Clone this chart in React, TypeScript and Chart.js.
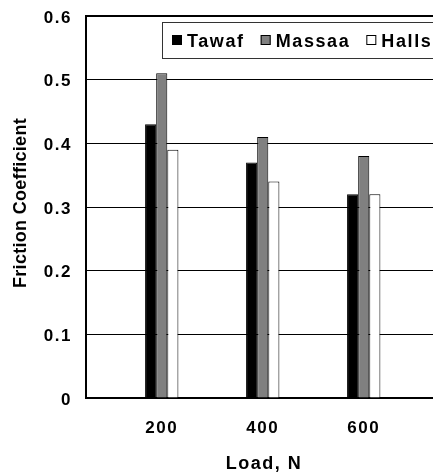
import React, { useEffect, useRef } from 'react';
import { Chart, registerables } from 'chart.js';

Chart.register(...registerables);

const loads = [200, 400, 600];
const xTickLabels = ['200', '400', '600'];
const seriesNames = ['Tawaf', 'Massaa', 'Halls'];
const tawaf = [0.43, 0.37, 0.32];
const massaa = [0.51, 0.41, 0.38];
const halls = [0.39, 0.34, 0.32];
const yTickValues = [0, 0.1, 0.2, 0.3, 0.4, 0.5, 0.6];
const yTickLabels = ['0', '0.1', '0.2', '0.3', '0.4', '0.5', '0.6'];

const FONT = '"Liberation Sans", Arial, Helvetica, sans-serif';

const spacingPlugin = {
  id: 'spacing',
  beforeInit(chart: any) { chart.ctx.letterSpacing = '1.5px'; },
  beforeUpdate(chart: any) { chart.ctx.letterSpacing = '1.5px'; },
  beforeDraw(chart: any) { chart.ctx.letterSpacing = '1.5px'; },
  afterLayout(chart: any) {
    const s = chart.scales.y;
    if (s && !s.__patched) {
      const orig = s.drawTitle.bind(s);
      s.drawTitle = function () {
        const c = s.ctx;
        const prev = c.letterSpacing;
        c.save();
        c.translate(0, -4);
        c.letterSpacing = '0.3px';
        orig();
        c.restore();
        c.letterSpacing = prev;
      };
      s.__patched = true;
    }
  },
};

const boxLegendPlugin = {
  id: 'boxLegend',
  afterDraw(chart: any) {
    const { ctx, chartArea } = chart;
    const left = Math.round(chartArea.left + 76) + 0.5;
    const top = Math.round(chartArea.top + 6) + 0.5;
    const h = 36;
    const w = chart.width - left + 20;
    ctx.save();
    ctx.letterSpacing = '1.6px';
    ctx.fillStyle = '#ffffff';
    ctx.fillRect(left, top, w, h);
    ctx.strokeStyle = '#333333';
    ctx.lineWidth = 1;
    ctx.strokeRect(left, top, w, h);
    ctx.font = `bold 18px ${FONT}`;
    ctx.textBaseline = 'alphabetic';
    ctx.textAlign = 'left';
    let x = Math.round(left + 9.5);
    const my = Math.round(top + 12.5);
    chart.data.datasets.forEach((ds: any) => {
      ctx.fillStyle = ds.backgroundColor;
      ctx.fillRect(x, my, 10, 10);
      ctx.strokeStyle = '#000000';
      ctx.strokeRect(x + 0.5, my + 0.5, 9, 9);
      ctx.fillStyle = '#000000';
      ctx.fillText(ds.label, x + 15, my + 11.5);
      x += 15 + ctx.measureText(ds.label).width + 16;
    });
    ctx.restore();
  },
};

export default function App() {
  const ref = useRef<HTMLCanvasElement>(null);
  useEffect(() => {
    if (!ref.current) return;
    const chart = new Chart(ref.current, {
      type: 'bar',
      data: {
        labels: loads,
        datasets: [
          { label: seriesNames[0], data: tawaf, backgroundColor: '#000000', borderColor: '#000000', borderWidth: 1 },
          { label: seriesNames[1], data: massaa, backgroundColor: '#808080', borderColor: '#000000', borderWidth: 1 },
          { label: seriesNames[2], data: halls, backgroundColor: '#ffffff', borderColor: '#000000', borderWidth: 1 },
        ],
      },
      options: {
        responsive: false,
        animation: false,
        devicePixelRatio: 1,
        layout: { padding: { left: 0, right: 8, top: 16, bottom: 0 } },
        datasets: { bar: { categoryPercentage: 0.33, barPercentage: 1 } } as any,
        plugins: { legend: { display: false }, tooltip: { enabled: false } },
        scales: {
          x: {
            type: 'linear',
            min: 50,
            max: 755,
            offset: false,
            afterBuildTicks: (s: any) => { s.ticks = loads.map((v) => ({ value: v })); },
            afterFit: (s: any) => { s.height = 76; s.paddingLeft = 0; s.paddingRight = 0; },
            grid: { display: false, drawTicks: false },
            border: { display: true, color: '#000000', width: 2 },
            ticks: {
              color: '#000000',
              font: { family: FONT, size: 17, weight: 'bold' },
              padding: 20,
              maxRotation: 0,
              autoSkip: false,
              callback: (_v: any, i: number) => xTickLabels[i],
            },
            title: {
              display: true,
              text: 'Load, N',
              color: '#000000',
              font: { family: FONT, size: 18, weight: 'bold', lineHeight: 1 },
              padding: { top: 0, bottom: 1 },
            },
          } as any,
          y: {
            min: 0,
            max: 0.6,
            afterBuildTicks: (s: any) => { s.ticks = yTickValues.map((v) => ({ value: v })); },
            afterFit: (s: any) => { s.width = 86; s.paddingTop = 0; s.paddingBottom = 0; },
            grid: {
              color: '#000000',
              lineWidth: (c: any) => (c.tick && c.tick.value === 0.6 ? 2 : 1),
              drawTicks: false,
            },
            border: { display: true, color: '#000000', width: 2 },
            ticks: {
              color: '#000000',
              font: { family: FONT, size: 17, weight: 'bold' },
              padding: 14,
              labelOffset: 2,
              callback: (_v: any, i: number) => yTickLabels[i],
            },
            title: {
              display: true,
              text: 'Friction Coefficient',
              color: '#000000',
              font: { family: FONT, size: 18, weight: 'bold' },
              padding: { top: 10, bottom: 0 },
            },
          } as any,
        },
      },
      plugins: [spacingPlugin, boxLegendPlugin],
    });
    return () => chart.destroy();
  }, []);
  return (
    <div style={{ position: 'fixed', left: 0, top: 0, width: 433, height: 474, overflow: 'hidden', background: '#ffffff' }}>
      <canvas ref={ref} width={450} height={474} style={{ display: 'block', width: 450, height: 474 }} />
    </div>
  );
}
